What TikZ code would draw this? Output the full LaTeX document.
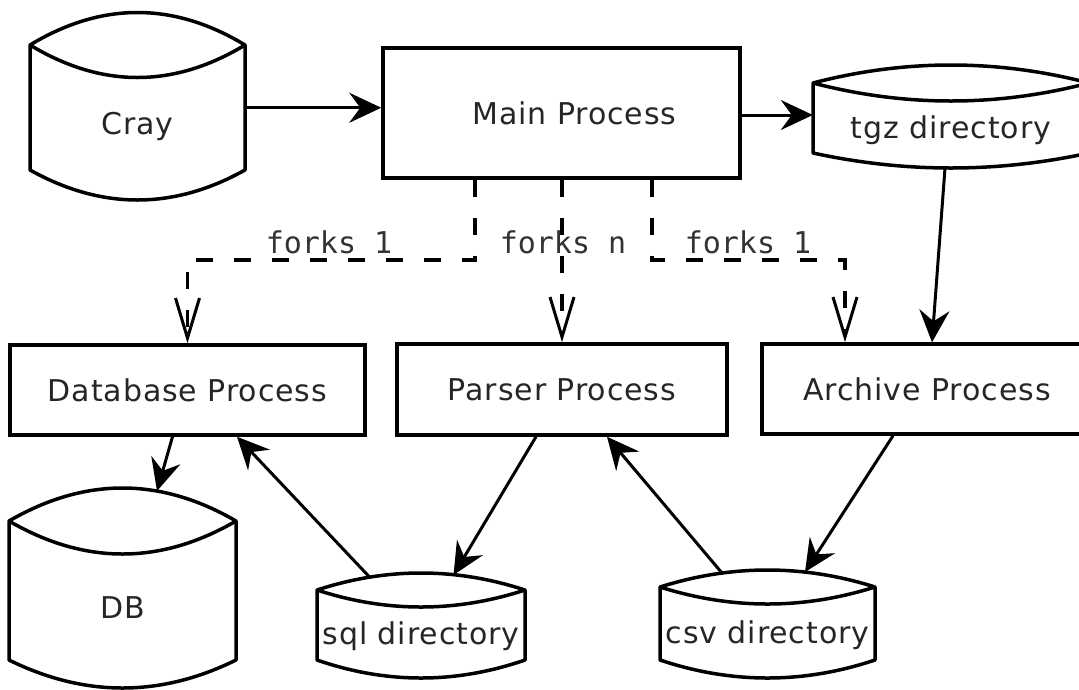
\documentclass[tikz,border=0pt]{standalone}
\usepackage{fontspec}
\setmainfont{DejaVu Sans}[LetterSpace=3]
\newfontfamily\labelmono{DejaVu Sans Mono}
\usetikzlibrary{arrows.meta,calc}

\tikzset{
  boxfont/.style={font=\fontsize{30}{36}\selectfont, text=black!85, text height=22pt, text depth=0pt},
  proc/.style={boxfont, draw, line width=3.5pt, rectangle, inner sep=0pt},
  drumline/.style={draw, line width=3.5pt, line join=round},
  drumtext/.style={boxfont, rectangle, inner sep=0pt},
  flow/.style={line width=3pt, -{Stealth[length=32pt,width=30pt,inset=11pt]}},
  fork/.style={line width=3.5pt, dash pattern=on 17pt off 21pt,
    -{Straight Barb[length=40pt,width=24pt,line width=3pt]}},
  forklabel/.style={font=\labelmono\fontsize{30}{36}\selectfont, text=black!80,
    inner sep=0pt, text height=24pt, text depth=0pt},
}

% storage drum: name, x-left, x-right, y of upper corners, y of lower corners,
% sag of the top arcs, sag of the bottom arc, caption
\newcommand\drum[8]{%
  \pgfmathsetmacro\drXa{#2+(#3-#2)/3}%
  \pgfmathsetmacro\drXb{#2+2*(#3-#2)/3}%
  \pgfmathsetmacro\drYup{#4-4*#6/3}%
  \pgfmathsetmacro\drYin{#4+4*#6/3}%
  \pgfmathsetmacro\drYdn{#5+4*#7/3}%
  \pgfmathsetmacro\drW{#3-#2}%
  \pgfmathsetmacro\drH{#5-#4-#6}%
  \pgfmathsetmacro\drCx{(#2+#3)/2}%
  \pgfmathsetmacro\drCy{(#4+#6+#5)/2}%
  \draw[drumline] (#2,#4) .. controls (\drXa,\drYup) and (\drXb,\drYup) .. (#3,#4)
    -- (#3,#5) .. controls (\drXb,\drYdn) and (\drXa,\drYdn) .. (#2,#5) -- cycle;
  \draw[drumline] (#2,#4) .. controls (\drXa,\drYin) and (\drXb,\drYin) .. (#3,#4);
  \coordinate (#1-top) at (\drCx,{#4-#6});
  \coordinate (#1-bot) at (\drCx,{#5+#7});
  \node[drumtext, minimum width=\drW pt, minimum height=\drH pt] (#1) at (\drCx,\drCy) {#8};
}

\begin{document}
\begin{tikzpicture}[x=1pt, y=-1pt]
  \useasboundingbox (0,0) rectangle (1079,689);
  \clip (0,0) rectangle (1079,689);
  \fill[white] (0,0) rectangle (1079,689);

  % stores
  \drum{cray}{30}{245}{45}{170}{32.5}{30}{Cray}
  \drum{tgz}{813}{1089}{83}{153}{18}{15}{tgz directory}
  \drum{db}{9}{236}{521}{660}{33}{28}{DB}
  \drum{sql}{317}{525}{590}{660}{17}{18}{sql directory}
  \drum{csv}{660}{875}{587}{660}{17}{18}{csv directory}

  % processes
  \node[proc, minimum width=357pt, minimum height=130pt] (main)    at (561.5,113)  {\hspace*{26pt}Main Process};
  \node[proc, minimum width=355pt, minimum height=90pt]  (dbproc)  at (187.5,390)  {Database Process};
  \node[proc, minimum width=330pt, minimum height=91pt]  (parser)  at (562,389.5)  {Parser Process};
  \node[proc, minimum width=330pt, minimum height=90pt]  (archive) at (927,389)    {Archive Process};

  % data flow
  \draw[flow] ([yshift=16pt]cray.east) -- ([yshift=16pt]cray.east -| main.west);
  \draw[flow] ([yshift=-2pt]main.east) -- ([yshift=-2pt]main.east -| tgz.west);
  \draw[flow] ([xshift=-6pt]tgz-bot) -- ([xshift=5pt]archive.north);
  \draw[flow] ([xshift=-15pt]dbproc.south) -- ([xshift=34.5pt,yshift=-3pt]db-top);
  \draw[flow] ([xshift=-51.5pt,yshift=-4pt]sql-top) -- ([xshift=49.5pt]dbproc.south);
  \draw[flow] ([xshift=-26pt]parser.south) -- ([xshift=32.5pt,yshift=-2pt]sql-top);
  \draw[flow] ([xshift=-45.5pt,yshift=-3pt]csv-top) -- ([xshift=45pt]parser.south);
  \draw[flow] ([xshift=-34pt]archive.south) -- ([xshift=37.5pt,yshift=-2pt]csv-top);

  % forks
  \draw[fork] ([xshift=-86.5pt]main.south) -- ++(0,80) -| (dbproc.north);
  \draw[fork] (main.south -| parser.north) -- (parser.north);
  \draw[fork] ([xshift=90.5pt]main.south) -- ++(0,80) -| ([xshift=-82pt]archive.north);

  \node[forklabel] (forkdb)  at (329,241) {forks 1};
  \node[forklabel] (forkpar) at (563,241) {forks n};
  \node[forklabel] (forkarc) at (748,241) {forks 1};
\end{tikzpicture}
\end{document}
